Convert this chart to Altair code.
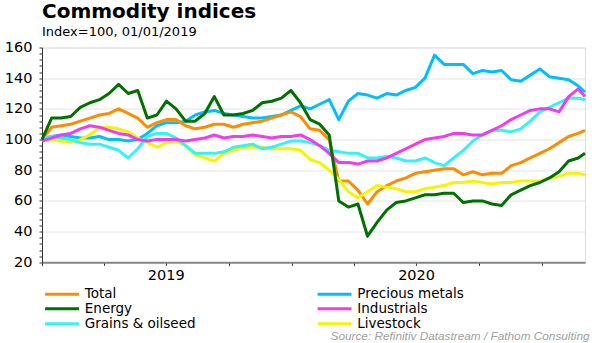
import altair as alt
import pandas as pd

# Fortnightly observation dates (plus final observation)
dates = [d.strftime("%Y-%m-%d") for d in pd.date_range("2019-01-01", periods=57, freq="14D")] + ["2021-03-05"]

total = [100, 108, 109, 110, 112, 114, 116, 117, 120, 117,
         114, 108, 111, 113, 113, 109, 107, 108, 110, 110,
         108, 110, 111, 112, 114, 116, 118, 115, 107, 106,
         100, 73, 73, 67, 58, 66, 70, 73, 75, 78,
         79, 80, 81, 81, 77, 79, 77, 78, 78, 83,
         85, 88, 91, 94, 98, 102, 104, 106]
energy = [100, 114, 114, 115, 121, 124, 126, 130, 136, 130,
          132, 114, 116, 125, 120, 112, 112, 117, 128, 116,
          116, 117, 119, 124, 125, 127, 132, 124, 113, 110,
          103, 60, 56, 58, 37, 46, 54, 59, 60, 62,
          64, 64, 65, 65, 59, 60, 60, 58, 57, 64,
          67, 70, 72, 75, 79, 86, 88, 91]
grains = [101, 102, 101, 100, 98, 97, 97, 95, 93, 88,
          94, 102, 104, 104, 101, 96, 91, 91, 91, 92,
          95, 96, 97, 94, 95, 97, 99, 99, 98, 96,
          93, 92, 91, 91, 88, 88, 89, 88, 86, 86,
          88, 85, 83, 88, 93, 99, 103, 106, 106, 105,
          107, 112, 118, 121, 124, 127, 127, 126]
precious = [100, 102, 103, 102, 101, 101, 102, 100, 100, 99,
            100, 104, 109, 111, 111, 112, 116, 118, 119, 117,
            116, 115, 114, 114, 115, 116, 119, 122, 120, 123,
            126, 113, 125, 130, 129, 127, 130, 129, 132, 134,
            140, 155, 149, 149, 149, 143, 145, 144, 145, 139,
            138, 142, 146, 141, 140, 139, 135, 131]
industrials = [99, 101, 103, 104, 107, 109, 108, 106, 104, 103,
               100, 99, 100, 100, 100, 99, 100, 101, 103, 101,
               102, 102, 103, 102, 101, 102, 102, 103, 100, 96,
               91, 85, 85, 84, 86, 86, 88, 91, 94, 97,
               100, 101, 102, 104, 104, 103, 103, 106, 109, 113,
               116, 119, 120, 120, 118, 128, 133, 128]
livestock = [100, 100, 99, 98, 100, 103, 108, 108, 107, 105,
             101, 98, 95, 98, 99, 96, 90, 88, 86, 91,
             93, 95, 95, 95, 94, 94, 94, 93, 87, 85,
             80, 74, 66, 62, 66, 70, 69, 68, 66, 66,
             68, 69, 70, 72, 72, 73, 72, 71, 72, 72,
             73, 73, 73, 75, 76, 78, 78, 77]

# Legend order (column-major: left column then right column)
series_names = ["Total", "Energy", "Grains & oilseed", "Precious metals", "Industrials", "Livestock"]
series_colors = ["#FF8C00", "#007000", "#33F3F3", "#00BFFF", "#F03CF0", "#F5F500"]
series_widths = [3, 3, 1.5, 3, 1.5, 1.5]
draw_order = [("Precious metals", precious), ("Total", total), ("Livestock", livestock),
              ("Grains & oilseed", grains), ("Industrials", industrials), ("Energy", energy)]

rows = []
for name, vals in draw_order:
    for d, v in zip(dates, vals):
        rows.append({"date": d, "series": name, "value": v})
df = pd.DataFrame(rows)

quarter_ticks = [alt.DateTime(year=y, month=m, date=1, utc=True)
                 for y, m in [(2019, 1), (2019, 4), (2019, 7), (2019, 10), (2020, 1),
                              (2020, 4), (2020, 7), (2020, 10), (2021, 1)]]

chart = alt.Chart(df).mark_line(strokeJoin="round").encode(
    x=alt.X("date:T",
            scale=alt.Scale(type="utc", nice=False,
                            domain=[alt.DateTime(year=2019, month=1, date=1, utc=True),
                                    alt.DateTime(year=2021, month=3, date=5, utc=True)]),
            axis=alt.Axis(values=quarter_ticks,
                          labelExpr="utcmonth(datum.value) == 6 ? utcFormat(datum.value, '%Y') : ''",
                          grid=False, tickSize=3, tickColor="#333333", tickWidth=1,
                          domainColor="#888888", domainWidth=2,
                          labelFont="DejaVu Sans", labelFontSize=14.5, labelColor="#000000",
                          labelPadding=3, labelOverlap=False, labelFlush=False,
                          title="Source: Refinitiv Datastream / Fathom Consulting",
                          titleFont="Liberation Sans", titleFontSize=11.8, titleFontStyle="italic",
                          titleFontWeight="normal", titleColor="#a0a0a0",
                          titleAnchor="end", titleAlign="right", titleBaseline="alphabetic",
                          titleX=547, titleY=77.5)),
    y=alt.Y("value:Q",
            scale=alt.Scale(domain=[20, 160], nice=False, zero=False),
            axis=alt.Axis(values=list(range(20, 161, 4)),
                          labelExpr="datum.value % 20 == 0 ? datum.label : ''",
                          gridOpacity={"condition": {"test": "datum.value % 20 == 0", "value": 1}, "value": 0},
                          gridColor="#e4e4e4", gridWidth=1,
                          tickSize=3, tickColor="#333333", domainColor="#333333", domainWidth=1,
                          labelFont="DejaVu Sans", labelFontSize=14.5, labelColor="#000000",
                          labelPadding=7, labelOverlap=False, title=None)),
    color=alt.Color("series:N",
                    scale=alt.Scale(domain=series_names, range=series_colors),
                    legend=alt.Legend(orient="none", legendX=13.3, legendY=239.5, columns=2,
                                      title=None, symbolType="M-6,0H6", symbolSize=32,
                                      symbolStrokeWidth=2.5, labelFont="DejaVu Sans",
                                      labelFontSize=13.5, labelColor="#000000", labelOffset=16,
                                      columnPadding=114.5, rowPadding=0, padding=0)),
    strokeWidth=alt.StrokeWidth("series:N",
                                scale=alt.Scale(domain=series_names, range=series_widths),
                                legend=None),
).properties(
    width=543,
    height=214.8,
    autosize="none",
    padding={"left": 42, "top": 47.5, "right": 21, "bottom": 80.7},
    title=alt.Title("Commodity indices", subtitle="Index=100, 01/01/2019",
                    anchor="start", frame="group", font="DejaVu Sans", fontSize=20,
                    fontWeight="bold", color="#000000", subtitleFont="DejaVu Sans",
                    subtitleFontSize=13, subtitleColor="#000000", offset=1, subtitlePadding=4),
).configure_view(stroke=None).configure(background="white")

chart.save("out.html", embed_options={"renderer": "svg", "actions": False})
